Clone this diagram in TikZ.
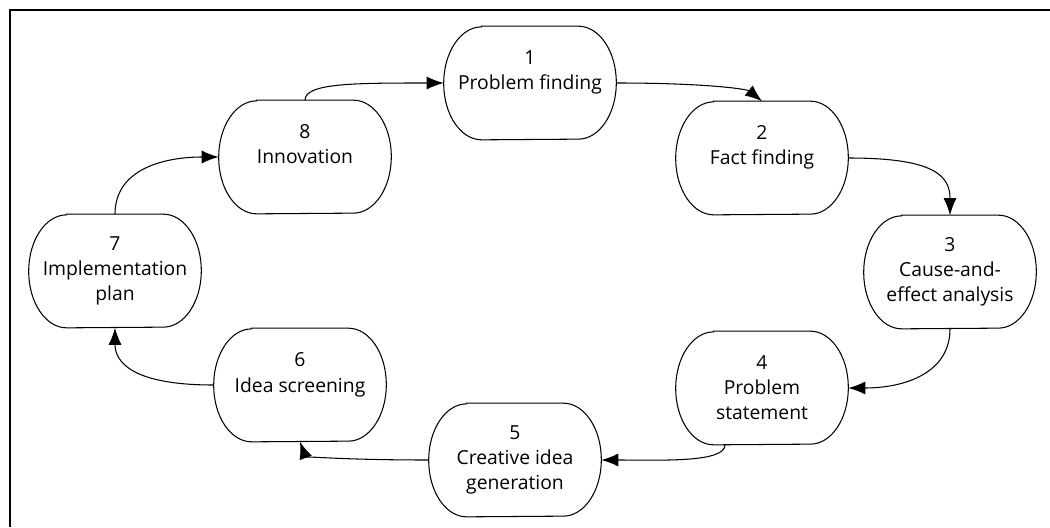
\documentclass[tikz,border=0pt]{standalone}
\usepackage{fontspec}
\setmainfont{Open Sans}
\usetikzlibrary{arrows.meta,calc}

\begin{document}
\begin{tikzpicture}[x=0.02cm,y=-0.02cm,
  stage/.style={minimum width=3.44cm,minimum height=2.26cm,inner sep=0pt,
    align=center,font=\fontsize{11}{14.3}\selectfont},
  outline/.style={line width=0.6pt,black},
  flow/.style={line width=0.6pt,black,-{Latex[length=3.4mm,width=2.6mm]}},
  frameline/.style={line width=1.1pt,black}]
  \useasboundingbox (0,0) rectangle (1050,527);

  % partial frame: top and left edges
  \coordinate (ftl) at (10,10);
  \coordinate (ftr) at (1050,10);
  \coordinate (fbl) at (10,527);
  \draw[frameline] (ftr) -- (ftl) -- (fbl);

  % the eight stages (middle line sits on the node centre)
  \node[stage] (n1) at (530,83)  {1\\Problem finding\\\mbox{}};
  \node[stage] (n2) at (762,158) {2\\Fact finding\\\mbox{}};
  \node[stage] (n3) at (950,272) {3\\Cause-and-\\effect analysis};
  \node[stage] (n4) at (762,388) {4\\Problem\\statement};
  \node[stage] (n5) at (515,460) {5\\Creative idea\\generation};
  \node[stage] (n6) at (300,385) {6\\Idea screening\\\mbox{}};
  \node[stage] (n7) at (115,271) {7\\Implementation\\plan};
  \node[stage] (n8) at (305,157) {8\\Innovation\\\mbox{}};

  % stadium outlines with elliptical ends
  \foreach \n in {n1,n2,n3,n4,n5,n6,n7,n8}{
    \draw[outline] ($(\n.north west)+(38,0)$) -- ($(\n.north east)+(-38,0)$)
      arc[start angle=90,end angle=-90,x radius=0.76cm,y radius=1.13cm]
      -- ($(\n.south west)+(38,0)$)
      arc[start angle=270,end angle=90,x radius=0.76cm,y radius=1.13cm]
      -- cycle;
  }

  % cycle connectors
  \draw[flow] (n8.north) .. controls +(0,-17) and +(-90,0) .. (n1.west);
  \draw[flow] (n1.east) .. controls +(90,0) and +(-15,-12) .. (n2.north);
  \draw[flow] (n2.east) .. controls +(85,0) and +(0,-40) .. (n3.north);
  \draw[flow] (n3.south) .. controls +(0,45) and +(55,0) .. (n4.east);
  \draw[flow] ([xshift=-0.74cm]n4.south) .. controls +(0,18) and +(60,0) .. (n5.east);
  \draw[flow] (n5.west) .. controls +(-90,0) and +(5,14) .. (n6.south);
  \draw[flow] (n6.west) .. controls +(-80,0) and +(0,35) .. (n7.south);
  \draw[flow] (n7.north) .. controls +(0,-45) and +(-55,0) .. (n8.west);
\end{tikzpicture}
\end{document}
